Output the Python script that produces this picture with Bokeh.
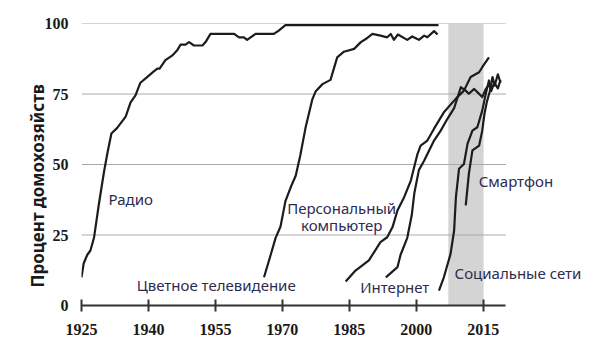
from bokeh.plotting import figure
from bokeh.models import FixedTicker, BoxAnnotation, Label, Title
from bokeh.embed import file_html
from bokeh.resources import INLINE

# ---- data ----
radio_x = [1925, 1925.5, 1926.3, 1927, 1927.8, 1928.9, 1930, 1930.8, 1931.7, 1933, 1934.9,
           1936, 1937.1, 1938.2, 1939.7, 1941.2, 1942, 1942.5, 1943.8, 1945.3, 1946.4, 1947.2,
           1948.3, 1949.1, 1950.2, 1952.1, 1952.8, 1953.9, 1959.2, 1960.3, 1961.4, 1962.1,
           1964, 1968.1, 1969.2, 1970.7, 2005]
radio_y = [10, 15, 18, 19.5, 24, 36, 47, 54, 61, 63, 67,
           72, 74.5, 79, 81, 83, 84, 84, 87, 88.6, 90.4, 92.5,
           92.5, 93.4, 92.2, 92.2, 93.4, 96.3, 96.3, 95.1, 95.1, 94.2,
           96.3, 96.3, 97.5, 99.4, 99.4]

tv_x = [1965.9, 1967.4, 1968.5, 1969.6, 1970.7, 1971.9, 1973, 1974, 1975.2, 1976.7, 1977.5,
        1979, 1980.8, 1982.3, 1983.8, 1986.1, 1987.6, 1988.7, 1990.2, 1992, 1993.5, 1994.3,
        1995, 1995.9, 1998, 1999.1, 2000.6, 2001.8, 2002.5, 2004, 2004.8]
tv_y = [10, 18, 24, 28, 37, 42, 46, 53, 63, 73, 76,
        78.5, 80, 88, 90, 91, 93.4, 94.5, 96.3, 95.7, 95.1, 96.3,
        94.2, 96.1, 94.2, 95.4, 94.2, 95.7, 95.1, 97.3, 96.1]

pc_x = [1984.2, 1986.4, 1989.4, 1992, 1993.5, 1994.7, 1995.8, 1997.3, 1998.8, 2000.3, 2001,
        2002.5, 2004, 2006.2, 2009.2, 2010.7, 2012.2, 2014.1, 2014.8, 2016.3]
pc_y = [8.5, 12.4, 16, 22.5, 24.2, 27.8, 33.7, 38.4, 44.3, 53.8, 56.7,
        58.5, 62.7, 68.5, 73.9, 76.2, 81, 82.7, 84.5, 88]

inet_x = [1993.2, 1995.8, 1996.5, 1998, 1999, 1999.6, 2000.6, 2001.8, 2004, 2005.5, 2007,
          2008.5, 2010, 2011.1, 2011.8, 2013, 2014.8, 2015.6, 2016.2]
inet_y = [10, 13.6, 18, 24, 32, 40, 48, 51.4, 58.5, 62, 66.2,
          70, 77.4, 76.2, 75.1, 76.8, 73.9, 76.8, 78]

social_x = [2005.1, 2006.2, 2007.7, 2008.5, 2008.9, 2009.6, 2010.7, 2011.5, 2012.6, 2013.7,
            2014.8, 2015.6, 2016.3, 2016.8, 2017.5, 2018.3, 2018.9]
social_y = [5.3, 10, 18.3, 26.6, 38.4, 48.5, 50.2, 57.3, 62, 63.2,
            69.1, 75.1, 79.8, 76, 79, 77, 80]

phone_x = [2011.1, 2011.8, 2012.6, 2014.1, 2014.8, 2015.3, 2015.8, 2016.5, 2017.1, 2017.6,
           2018.3, 2018.9]
phone_y = [35.5, 46.7, 55, 56.7, 62, 68, 72, 76, 81, 78, 82, 79]

x_ticks = [1925, 1940, 1955, 1970, 1985, 2000, 2015]
y_ticks = [0, 25, 50, 75, 100]
axis_span = (1925, 2020.1)
band = (2007.2, 2015.1)

series = [(radio_x, radio_y), (tv_x, tv_y), (pc_x, pc_y), (inet_x, inet_y),
          (social_x, social_y), (phone_x, phone_y)]

# ---- figure ----
p = figure(width=600, height=352, x_range=(1925, 2041.3), y_range=(0, 100),
           output_backend="svg", toolbar_location=None,
           min_border_left=81, min_border_right=0, min_border_top=23, min_border_bottom=47)
p.outline_line_color = None
p.background_fill_color = "white"
p.xgrid.visible = False
p.ygrid.visible = False

p.add_layout(BoxAnnotation(left=band[0], right=band[1], bottom=0, top=100,
                           fill_color="#d4d4d4", fill_alpha=1.0, line_color=None,
                           level="underlay"))

grid_vals = y_ticks[1:]
p.segment(x0=[axis_span[0]] * len(grid_vals), x1=[axis_span[1]] * len(grid_vals),
          y0=grid_vals, y1=grid_vals, line_color="#aaaaaa", line_width=1)

for xs, ys in series:
    p.line(xs, ys, line_color="#1c1c1c", line_width=2.2, line_join="round")

label_color = "#2e2b4f"
lab_font = "Noto Sans"
lab_size = "15px"
labels = [
    ("Радио", 1931.05, 37.6, "left"),
    ("Цветное телевидение", 1973.0, 7.1, "right"),
    ("Персональный", 1983.3, 34.4, "center"),
    ("компьютер", 1983.3, 28.4, "center"),
    ("Интернет", 1995.2, 6.7, "center"),
    ("Социальные сети", 2008.6, 11.7, "left"),
    ("Смартфон", 2014.0, 44.3, "left"),
]
for t, x, y, al in labels:
    p.add_layout(Label(x=x, y=y, text=t, text_align=al, text_baseline="middle",
                       text_font=lab_font, text_font_size=lab_size, text_color=label_color))

# axes
p.xaxis.bounds = axis_span
p.xaxis.ticker = FixedTicker(ticks=x_ticks)
p.xaxis.minor_tick_line_color = None
p.xaxis.axis_line_color = "#333333"
p.xaxis.axis_line_width = 2
p.xaxis.major_tick_line_color = "#333333"
p.xaxis.major_tick_line_width = 2
p.xaxis.major_tick_in = 6
p.xaxis.major_tick_out = 6
p.xaxis.major_label_standoff = 12
p.xaxis.major_label_text_font = "Liberation Serif"
p.xaxis.major_label_text_font_style = "bold"
p.xaxis.major_label_text_font_size = "16px"
p.xaxis.major_label_text_color = "#1a1a1a"

p.yaxis.ticker = FixedTicker(ticks=y_ticks)
p.yaxis.minor_tick_line_color = None
p.yaxis.axis_line_color = None
p.yaxis.major_tick_line_color = None
p.yaxis.major_tick_in = 0
p.yaxis.major_tick_out = 0
p.yaxis.major_label_standoff = 13
p.yaxis.major_label_text_font = "Liberation Serif"
p.yaxis.major_label_text_font_style = "bold"
p.yaxis.major_label_text_font_size = "16px"
p.yaxis.major_label_text_color = "#1a1a1a"

ylab = Title(text="Процент домохозяйств", align="left", offset=18, standoff=0,
             text_font="Noto Sans", text_font_style="bold", text_font_size="17px",
             text_color="#1a1a1a")
try:
    ylab.standoff = -14
except Exception:
    pass
p.add_layout(ylab, "left")

open("out.html", "w").write(file_html(p, INLINE))
